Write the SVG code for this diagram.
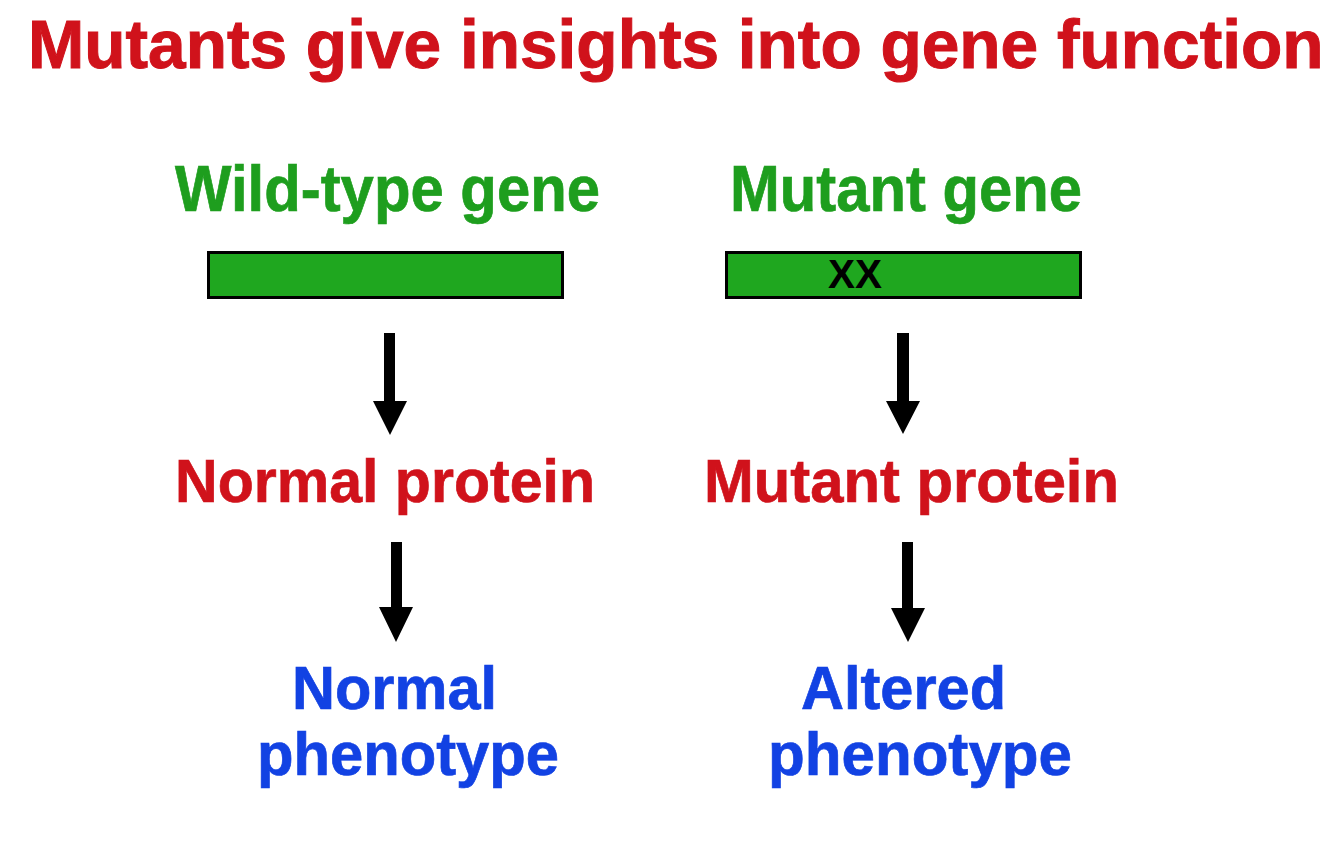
<svg xmlns="http://www.w3.org/2000/svg" width="1334" height="846" viewBox="0 0 1334 846">
<style>
text{font-family:"Liberation Sans",Arial,sans-serif;font-weight:bold}
.title{font-size:67.6px;fill:#D0121B;stroke:#D0121B;stroke-width:1}
.green{font-size:64px;fill:#1E9E1E;stroke:#1E9E1E;stroke-width:0.7}
.red{font-size:62px;fill:#D0121B;stroke:#D0121B;stroke-width:0.7}
.blue{font-size:62px;fill:#1242E3;stroke:#1242E3;stroke-width:0.7}
.bar{fill:#1FA71F;stroke:#000;stroke-width:3}
.arrow{fill:#000}
</style>
<rect width="1334" height="846" fill="#fff"/>
<text class="title" x="28" y="68">Mutants give insights into gene function</text>
<g id="wildtype-gene">
<text class="green" x="175" y="211" textLength="425" lengthAdjust="spacingAndGlyphs">Wild-type gene</text>
<rect class="bar" x="208.5" y="252.5" width="354" height="45"/>
</g>
<g id="mutant-gene">
<text class="green" x="730" y="211" textLength="352" lengthAdjust="spacingAndGlyphs">Mutant gene</text>
<rect class="bar" x="726.5" y="252.5" width="354" height="45"/>
<text x="828" y="288" font-size="40" fill="#000" textLength="54" lengthAdjust="spacingAndGlyphs">XX</text>
</g>
<g id="normal-protein">
<text class="red" x="175" y="502" textLength="420" lengthAdjust="spacingAndGlyphs">Normal protein</text>
</g>
<g id="mutant-protein">
<text class="red" x="704" y="502" textLength="415" lengthAdjust="spacingAndGlyphs">Mutant protein</text>
</g>
<g id="normal-phenotype">
<text class="blue" x="292" y="709" textLength="205" lengthAdjust="spacingAndGlyphs">Normal</text>
<text class="blue" x="257" y="775" textLength="302" lengthAdjust="spacingAndGlyphs">phenotype</text>
</g>
<g id="altered-phenotype">
<text class="blue" x="801" y="709" textLength="205" lengthAdjust="spacingAndGlyphs">Altered</text>
<text class="blue" x="768" y="775" textLength="304" lengthAdjust="spacingAndGlyphs">phenotype</text>
</g>
<g id="connectors">
<path class="arrow" d="M384,333 H395 V401 H407 L390,435 L373,401 H384 Z"/>
<path class="arrow" d="M391,542 H402 V607 H413 L396,642 L379,607 H391 Z"/>
<path class="arrow" d="M897,333 H909 V401 H920 L903,434 L886,401 H897 Z"/>
<path class="arrow" d="M902,542 H913 V608 H925 L908,642 L891,608 H902 Z"/>
</g>
</svg>
